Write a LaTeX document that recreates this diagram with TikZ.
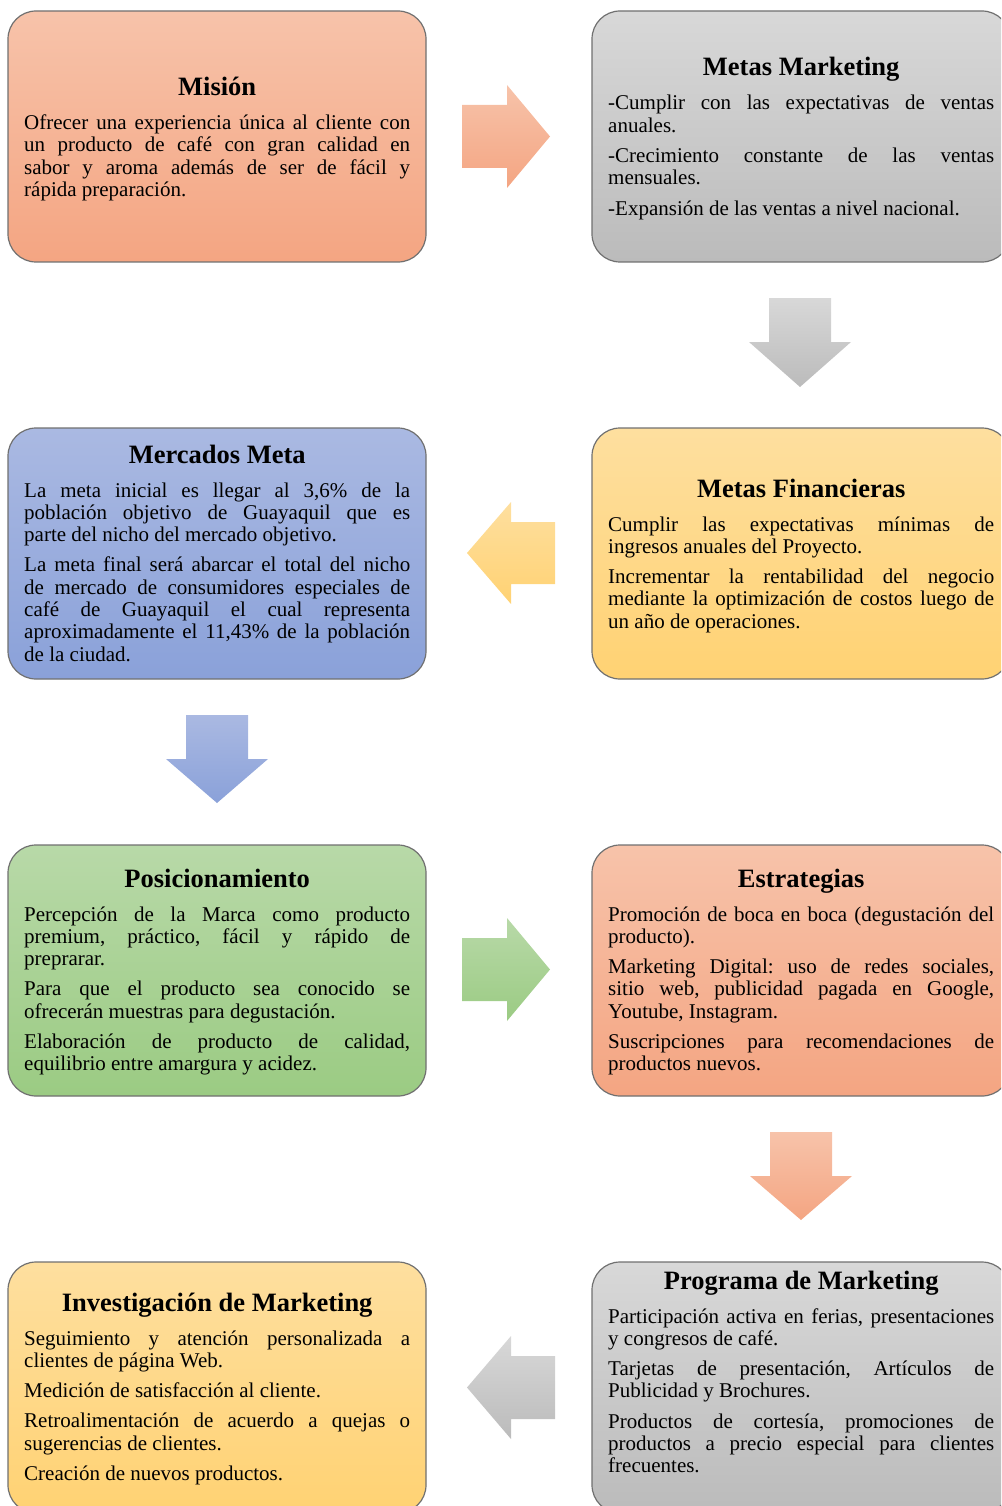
\documentclass[tikz,border=0pt]{standalone}
\usepackage{fontspec}
\setmainfont{Liberation Serif}

% card fills: light top, deeper bottom
\definecolor{salmonT}{HTML}{F7C3AA}
\definecolor{salmonB}{HTML}{F4A582}
\definecolor{greyT}{HTML}{D8D8D8}
\definecolor{greyB}{HTML}{BBBBBB}
\definecolor{blueT}{HTML}{AAB9E2}
\definecolor{blueB}{HTML}{8AA1D9}
\definecolor{yellowT}{HTML}{FEDF9F}
\definecolor{yellowB}{HTML}{FFD273}
\definecolor{greenT}{HTML}{B8D9A8}
\definecolor{greenB}{HTML}{9BCB83}
\definecolor{edge}{HTML}{707070}

% text block of a card: centred bold title, justified paragraphs
\newcommand\cardbody[2]{\parbox[t]{386pt}{%
  \fontsize{21}{22.3}\selectfont\parindent0pt\parskip0pt\frenchspacing
  \tolerance10000\hyphenpenalty10000\exhyphenpenalty10000
  {\centering\fontsize{26.5}{28}\selectfont\bfseries #1\par}%
  \vspace{11.7pt}#2}}
\newcommand\np{\par\vspace{8pt}}

\tikzset{
  card/.style={rectangle, rounded corners=28pt, minimum width=418pt,
    minimum height=251pt, draw=edge, line width=1.2pt, inner sep=0pt},
  salmoncard/.style={card, top color=salmonT, bottom color=salmonB},
  greycard/.style={card, top color=greyT, bottom color=greyB},
  bluecard/.style={card, top color=blueT, bottom color=blueB},
  yellowcard/.style={card, top color=yellowT, bottom color=yellowB},
  greencard/.style={card, top color=greenT, bottom color=greenB},
  cardtext/.style={inner sep=0pt, anchor=base west},
  salmonfill/.style={top color=salmonT, bottom color=salmonB},
  greyfill/.style={top color=greyT, bottom color=greyB},
  bluefill/.style={top color=blueT, bottom color=blueB},
  yellowfill/.style={top color=yellowT, bottom color=yellowB},
  greenfill/.style={top color=greenT, bottom color=greenB},
}

\begin{document}
\begin{tikzpicture}[x=1pt, y=-1pt]
\useasboundingbox (0,0) rectangle (1001,1506);
\clip (0,0) rectangle (1001,1506);

% ---- cards ----
\node[salmoncard] (mision)   at (217,136.5) {};
\node[greycard]   (metasmk)  at (801,136.5) {};
\node[bluecard]   (mercados) at (217,553.5) {};
\node[yellowcard] (metasfin) at (801,553.5) {};
\node[greencard]  (posic)    at (217,970.5) {};
\node[salmoncard] (estrat)   at (801,970.5) {};
\node[yellowcard] (investig) at (217,1387.5) {};
\node[greycard]   (programa) at (801,1387.5) {};

% ---- card texts ----
\node[cardtext] (misionT) at (24,95.5) {\cardbody{Misión}{%
Ofrecer una experiencia única al cliente con\linebreak
un producto de café con gran calidad en\linebreak
sabor y aroma además de ser de fácil y\linebreak
rápida preparación.}};

\node[cardtext] (metasmkT) at (608,76) {\cardbody{Metas Marketing}{%
-Cumplir con las expectativas de ventas\linebreak
anuales.\np
-Crecimiento constante de las ventas\linebreak
mensuales.\np
-Expansión de las ventas a nivel nacional.}};

\node[cardtext] (mercadosT) at (24,463) {\cardbody{Mercados Meta}{%
La meta inicial es llegar al 3,6\% de la\linebreak
población objetivo de Guayaquil que es\linebreak
parte del nicho del mercado objetivo.\np
La meta final será abarcar el total del nicho\linebreak
de mercado de consumidores especiales de\linebreak
café de Guayaquil el cual representa\linebreak
aproximadamente el 11,43\% de la población\linebreak
de la ciudad.}};

\node[cardtext] (metasfinT) at (608,497) {\cardbody{Metas Financieras}{%
Cumplir las expectativas mínimas de\linebreak
ingresos anuales del Proyecto.\np
Incrementar la rentabilidad del negocio\linebreak
mediante la optimización de costos luego de\linebreak
un año de operaciones.}};

\node[cardtext] (posicT) at (24,887) {\cardbody{Posicionamiento}{%
Percepción de la Marca como producto\linebreak
premium, práctico, fácil y rápido de\linebreak
preprarar.\np
Para que el producto sea conocido se\linebreak
ofrecerán muestras para degustación.\np
Elaboración de producto de calidad,\linebreak
equilibrio entre amargura y acidez.}};

\node[cardtext] (estratT) at (608,887) {\cardbody{Estrategias}{%
Promoción de boca en boca (degustación del\linebreak
producto).\np
Marketing Digital: uso de redes sociales,\linebreak
sitio web, publicidad pagada en Google,\linebreak
Youtube, Instagram.\np
Suscripciones para recomendaciones de\linebreak
productos nuevos.}};

\node[cardtext] (programaT) at (608,1289) {\cardbody{Programa de Marketing}{%
Participación activa en ferias, presentaciones\linebreak
y congresos de café.\np
Tarjetas de presentación, Artículos de\linebreak
Publicidad y Brochures.\np
Productos de cortesía, promociones de\linebreak
productos a precio especial para clientes\linebreak
frecuentes.}};

\node[cardtext] (investigT) at (24,1311) {\cardbody{Investigación de Marketing}{%
Seguimiento y atención personalizada a\linebreak
clientes de página Web.\np
Medición de satisfacción al cliente.\np
Retroalimentación de acuerdo a quejas o\linebreak
sugerencias de clientes.\np
Creación de nuevos productos.}};

% ---- block arrows between the cards ----
% right, Misión -> Metas Marketing
\shade[salmonfill] (462,105) -- (507,105) -- (507,85) -- (550,136.5)
  -- (507,188) -- (507,168) -- (462,168) -- cycle;
% down, Metas Marketing -> Metas Financieras
\shade[greyfill] (769,298) -- (831,298) -- (831,342) -- (851,342)
  -- (800,387) -- (749,342) -- (769,342) -- cycle;
% left, Metas Financieras -> Mercados Meta
\shade[yellowfill] (555,522) -- (511,522) -- (511,502) -- (467,553)
  -- (511,604) -- (511,584) -- (555,584) -- cycle;
% down, Mercados Meta -> Posicionamiento
\shade[bluefill] (186,715) -- (248,715) -- (248,759) -- (268,759)
  -- (217,803) -- (166,759) -- (186,759) -- cycle;
% right, Posicionamiento -> Estrategias
\shade[greenfill] (462,938) -- (507,938) -- (507,918) -- (550,969.5)
  -- (507,1021) -- (507,1001) -- (462,1001) -- cycle;
% down, Estrategias -> Programa de Marketing
\shade[salmonfill] (770,1132) -- (832,1132) -- (832,1176) -- (852,1176)
  -- (801,1220) -- (750,1176) -- (770,1176) -- cycle;
% left, Programa de Marketing -> Investigación de Marketing
\shade[greyfill] (555,1356) -- (511,1356) -- (511,1336) -- (467,1387.5)
  -- (511,1439) -- (511,1419) -- (555,1419) -- cycle;
\end{tikzpicture}
\end{document}
